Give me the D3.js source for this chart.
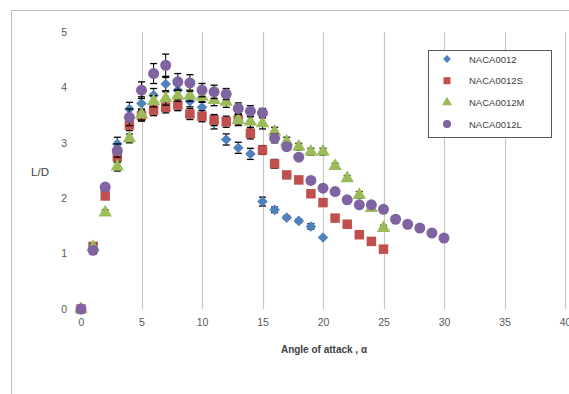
<!DOCTYPE html>
<html><head><meta charset="utf-8">
<script src="https://cdn.jsdelivr.net/npm/d3@7"></script>
<style>body{margin:0;background:#fff;}svg{display:block;}</style>
</head><body>
<script>
const seriesNames = ["NACA0012","NACA0012S","NACA0012M","NACA0012L"];
const angles = d3.range(0,31);
const liftDragBase = [0,1.12,2.15,2.98,3.61,3.71,3.86,4.06,3.95,3.75,3.64,3.37,3.06,2.91,2.80,1.94,1.79,1.65,1.59,1.49,1.29];
const liftDragS = [0,1.13,2.04,2.75,3.32,3.49,3.59,3.64,3.68,3.52,3.48,3.41,3.38,3.42,3.17,2.87,2.62,2.42,2.33,2.08,1.92,1.64,1.53,1.34,1.22,1.08];
const liftDragM = [0,1.12,1.74,2.57,3.08,3.51,3.75,3.80,3.85,3.85,3.83,3.77,3.74,3.41,3.38,3.35,3.20,3.02,2.93,2.84,2.84,2.58,2.36,2.06,1.82,1.46];
const liftDragL = [0,1.06,2.20,2.86,3.46,3.95,4.25,4.40,4.10,4.08,3.95,3.92,3.88,3.62,3.57,3.54,3.08,2.93,2.74,2.32,2.18,2.12,1.97,1.88,1.88,1.80,1.62,1.53,1.46,1.37,1.28];
const errBase = [0,0.05,0.05,0.12,0.12,0.12,0.12,0.12,0.1,0.1,0.1,0.12,0.1,0.1,0.1,0.08,0.05,0.03,0.03,0.05,0];
const errS = [0,0.05,0.05,0.1,0.1,0.1,0.1,0.1,0.1,0.1,0.1,0.1,0.1,0.1,0.1,0.08,0.08,0.05,0.05,0.05,0,0,0,0,0,0];
const errM = [0,0.05,0.05,0.08,0.08,0.1,0.1,0.12,0.1,0.1,0.1,0.1,0.1,0.1,0.1,0.1,0.08,0.08,0.06,0.06,0.06,0.05,0.05,0.06,0.05,0.05];
const errL = [0,0.03,0.05,0.12,0.15,0.15,0.18,0.2,0.15,0.15,0.12,0.12,0.1,0.1,0.1,0.08,0.08,0.06,0.06,0.05,0.05,0.05,0.05,0.05,0.05,0,0,0,0,0,0];
const xTicks = [0,5,10,15,20,25,30,35,40];
const yTicks = [0,1,2,3,4,5];
const colors = ["#4F81BD","#C0504D","#9BBB59","#8064A2"];
const squareDiamond = {draw(ctx,size){const r=Math.sqrt(size/2);ctx.moveTo(0,-r);ctx.lineTo(r,0);ctx.lineTo(0,r);ctx.lineTo(-r,0);ctx.closePath();}};
const symbols = [squareDiamond, d3.symbolSquare, d3.symbolTriangle, d3.symbolCircle];
const symSizes = [56, 90, 78, 95];

const W = 569, H = 394;
const svg = d3.select("body").append("svg").attr("width", W).attr("height", H);
const x = d3.scaleLinear().domain([0,40]).range([81,565]);
const y = d3.scaleLinear().domain([0,5]).range([309,32]);
const font = "'Liberation Sans', Arial, sans-serif";

// chart frame
svg.append("rect").attr("x",11.5).attr("y",10.5).attr("width",620).attr("height",420)
  .attr("fill","none").attr("stroke","#bfbfbf").attr("stroke-width",1);

// vertical gridlines
svg.append("g").selectAll("line").data(xTicks.filter(d=>d>0)).join("line")
  .attr("x1",d=>Math.round(x(d))+0.5).attr("x2",d=>Math.round(x(d))+0.5)
  .attr("y1",y(5)).attr("y2",y(0))
  .attr("stroke","#c8c8c8").attr("stroke-width",1.2);

// axes (labels only)
const xAxis = svg.append("g").attr("transform",`translate(0,${y(0)+6})`)
  .call(d3.axisBottom(x).tickValues(xTicks).tickFormat(d3.format("d")).tickSize(0).tickPadding(4));
const yAxis = svg.append("g").attr("transform",`translate(${x(0)-14},0)`)
  .call(d3.axisLeft(y).tickValues(yTicks).tickFormat(d3.format("d")).tickSize(0).tickPadding(0));
[xAxis,yAxis].forEach(a=>{
  a.select(".domain").remove();
  a.selectAll("text").attr("fill","#595959").style("font-family",font).style("font-size","10.5px");
});

// titles
svg.append("text").attr("x",324).attr("y",353).attr("text-anchor","middle")
  .style("font-family",font).style("font-size","10px").style("font-weight","bold").attr("fill","#404040")
  .text("Angle of attack , α");
svg.append("text").attr("x",40).attr("y",176).attr("text-anchor","middle")
  .style("font-family",font).style("font-size","11.5px").attr("fill","#404040").text("L/D");

const allVals = [liftDragBase, liftDragS, liftDragM, liftDragL];
const allErr = [errBase, errS, errM, errL];

allVals.forEach((vals, si) => {
  const data = vals.map((v,i)=>({a:angles[i], v, e:allErr[si][i]}));
  const g = svg.append("g");
  const eb = g.selectAll("g.eb").data(data.filter(d=>d.e>0)).join("g");
  eb.append("line").attr("x1",d=>x(d.a)).attr("x2",d=>x(d.a))
    .attr("y1",d=>y(d.v-d.e)).attr("y2",d=>y(d.v+d.e)).attr("stroke","#000").attr("stroke-width",1);
  [-1,1].forEach(s=>{
    eb.append("line").attr("x1",d=>x(d.a)-3.5).attr("x2",d=>x(d.a)+3.5)
      .attr("y1",d=>y(d.v+s*d.e)).attr("y2",d=>y(d.v+s*d.e)).attr("stroke","#000").attr("stroke-width",1.3);
  });
  g.selectAll("path.m").data(data).join("path")
    .attr("transform",d=>`translate(${x(d.a)},${y(d.v)})`)
    .attr("d", d3.symbol().type(symbols[si]).size(symSizes[si]))
    .attr("fill",colors[si]);
});

// legend
const lg = svg.append("g");
lg.append("rect").attr("x",428.5).attr("y",50.5).attr("width",123).attr("height",87)
  .attr("fill","#fff").attr("stroke","#595959").attr("stroke-width",1);
seriesNames.forEach((n,i)=>{
  const yy = 59 + i*21.7;
  lg.append("path").attr("transform",`translate(447,${yy})`)
    .attr("d", d3.symbol().type(symbols[i]).size(symSizes[i]*0.55)).attr("fill",colors[i]);
  lg.append("text").attr("x",469).attr("y",yy+3.5).style("font-family",font).style("font-size","9.5px")
    .attr("fill","#404040").text(n);
});
</script>
</body></html>
